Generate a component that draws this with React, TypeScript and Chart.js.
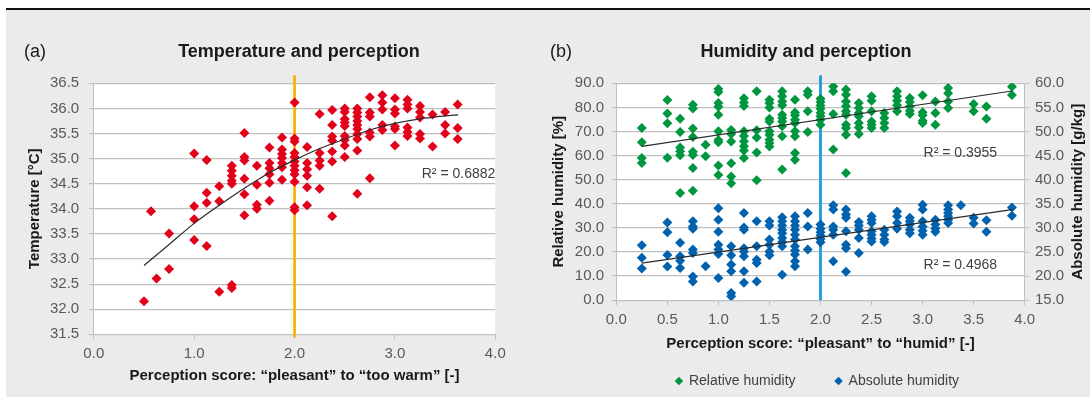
import React, { useEffect, useRef } from "react";
import { Chart, registerables } from "chart.js";

Chart.register(...registerables);

const FONT = "'Liberation Sans', Arial, Helvetica, sans-serif";
const TICK_COLOR = "#595959";
const GRID_COLOR = "#c0c0c0";
const TEXT_DARK = "#1a1a1a";
const LABEL_GREY = "#404040";
const RED = "#e2001a";
const GREEN = "#009640";
const BLUE = "#0062ae";
const YELLOW = "#f7b500";
const LIGHT_BLUE = "#1b9bdc";
const TREND = "#2b2b2b";

type Pt = [number, number];

// ---------- (a) Temperature and perception ----------
const temperaturePoints: Pt[] = [
  [0.5, 32.16], [0.57, 33.95], [0.625, 32.61], [0.75, 32.8], [0.75, 33.51],
  [1.0, 35.1], [1.0, 34.05], [1.0, 33.79], [1.0, 33.38],
  [1.125, 34.97], [1.125, 34.32], [1.125, 34.12], [1.125, 33.26],
  [1.25, 34.45], [1.25, 34.15], [1.25, 32.35],
  [1.375, 34.86], [1.375, 34.76], [1.375, 34.66], [1.375, 34.56], [1.375, 34.5], [1.375, 32.48], [1.375, 32.42],
  [1.5, 35.51], [1.5, 35.03], [1.5, 34.96], [1.5, 34.6], [1.5, 34.29], [1.5, 33.87],
  [1.625, 34.86], [1.625, 34.48], [1.625, 34.08], [1.625, 34.0],
  [1.75, 35.22], [1.75, 34.91], [1.75, 34.81], [1.75, 34.69], [1.75, 34.52], [1.75, 34.16],
  [1.875, 35.42], [1.875, 35.18], [1.875, 35.09], [1.875, 35.01], [1.875, 34.91], [1.875, 34.83], [1.875, 34.58],
  [2.0, 36.12], [2.0, 35.4], [2.0, 35.34], [2.0, 35.11], [2.0, 35.03], [2.0, 34.94], [2.0, 34.86], [2.0, 34.77], [2.0, 34.69], [2.0, 34.54], [2.0, 34.03], [2.0, 33.97],
  [2.125, 35.23], [2.125, 34.91], [2.125, 34.79], [2.125, 34.66], [2.125, 34.43], [2.125, 34.07],
  [2.25, 35.89], [2.25, 35.11], [2.25, 34.96], [2.25, 34.86], [2.25, 34.4],
  [2.375, 35.97], [2.375, 35.67], [2.375, 35.44], [2.375, 35.36], [2.375, 35.14], [2.375, 34.94], [2.375, 33.85],
  [2.5, 36.0], [2.5, 35.93], [2.5, 35.79], [2.5, 35.72], [2.5, 35.65], [2.5, 35.45], [2.5, 35.37], [2.5, 35.26], [2.5, 35.03],
  [2.625, 36.0], [2.625, 35.92], [2.625, 35.84], [2.625, 35.75], [2.625, 35.67], [2.625, 35.59], [2.625, 35.49], [2.625, 35.39], [2.625, 35.16], [2.625, 34.3],
  [2.75, 36.22], [2.75, 35.92], [2.75, 35.84], [2.75, 35.52], [2.75, 35.44], [2.75, 34.61],
  [2.875, 36.26], [2.875, 36.12], [2.875, 35.98], [2.875, 35.67], [2.875, 35.57],
  [3.0, 36.2], [3.0, 35.98], [3.0, 35.9], [3.0, 35.64], [3.0, 35.59], [3.0, 35.26],
  [3.125, 36.17], [3.125, 36.08], [3.125, 36.0], [3.125, 35.62], [3.125, 35.53], [3.125, 35.45],
  [3.25, 36.05], [3.25, 35.93], [3.25, 35.82], [3.25, 35.49], [3.25, 35.4],
  [3.375, 35.88], [3.375, 35.24],
  [3.5, 35.93], [3.5, 35.67], [3.5, 35.5],
  [3.625, 36.08], [3.625, 35.61], [3.625, 35.39],
];

const temperatureTrend: Pt[] = [
  [0.5, 32.87], [0.75, 33.29], [1.0, 33.71], [1.25, 34.07], [1.5, 34.41], [1.75, 34.72],
  [2.0, 34.97], [2.25, 35.2], [2.5, 35.39], [2.75, 35.57], [3.0, 35.7], [3.25, 35.79],
  [3.5, 35.85], [3.63, 35.87],
];

// ---------- (b) Humidity and perception ----------
const relativeHumidityPoints: Pt[] = [
  [0.25, 71.45], [0.25, 65.5], [0.25, 59.0], [0.25, 56.9],
  [0.5, 83.1], [0.5, 77.5], [0.5, 73.4], [0.5, 59.1],
  [0.625, 75.3], [0.625, 69.8], [0.625, 63.4], [0.625, 61.8], [0.625, 60.1], [0.625, 44.5],
  [0.75, 81.1], [0.75, 79.5], [0.75, 71.2], [0.75, 67.7], [0.75, 61.6], [0.75, 60.2], [0.75, 54.9], [0.75, 45.4],
  [0.875, 64.5], [0.875, 59.7],
  [1.0, 87.6], [1.0, 86.4], [1.0, 81.8], [1.0, 80.3], [1.0, 77.0], [1.0, 70.1], [1.0, 66.5], [1.0, 65.5], [1.0, 55.9], [1.0, 52.0],
  [1.125, 70.6], [1.125, 69.0], [1.125, 65.8], [1.125, 56.8], [1.125, 51.3], [1.125, 48.5],
  [1.25, 83.8], [1.25, 82.0], [1.25, 80.6], [1.25, 70.1], [1.25, 68.1], [1.25, 66.0], [1.25, 63.9], [1.25, 62.1], [1.25, 59.0],
  [1.375, 86.7], [1.375, 70.5], [1.375, 67.5], [1.375, 61.3], [1.375, 49.8],
  [1.5, 83.2], [1.5, 81.8], [1.5, 80.0], [1.5, 75.3], [1.5, 74.2], [1.5, 70.1], [1.5, 68.7], [1.5, 66.6], [1.5, 65.2], [1.5, 63.8],
  [1.625, 86.7], [1.625, 84.6], [1.625, 82.5], [1.625, 80.9], [1.625, 77.0], [1.625, 75.6], [1.625, 74.2], [1.625, 72.2], [1.625, 68.0], [1.625, 54.2],
  [1.75, 83.2], [1.75, 77.9], [1.75, 76.7], [1.75, 74.9], [1.75, 73.5], [1.75, 70.1], [1.75, 68.0], [1.75, 61.1], [1.75, 58.3],
  [1.875, 86.7], [1.875, 85.3], [1.875, 78.4], [1.875, 69.8],
  [2.0, 83.6], [2.0, 82.2], [2.0, 80.8], [2.0, 79.4], [2.0, 77.7], [2.0, 76.3], [2.0, 74.9], [2.0, 72.8],
  [2.125, 88.7], [2.125, 86.7], [2.125, 77.3], [2.125, 62.5],
  [2.25, 87.4], [2.25, 85.3], [2.25, 82.5], [2.25, 80.5], [2.25, 78.4], [2.25, 77.0], [2.25, 72.8], [2.25, 71.5], [2.25, 68.7], [2.25, 52.8],
  [2.375, 81.8], [2.375, 79.7], [2.375, 77.7], [2.375, 76.3], [2.375, 73.5], [2.375, 71.7], [2.375, 69.0],
  [2.5, 84.6], [2.5, 82.8], [2.5, 78.4], [2.5, 74.2], [2.5, 72.8], [2.5, 71.5],
  [2.625, 77.7], [2.625, 75.6], [2.625, 73.5], [2.625, 71.5],
  [2.75, 86.7], [2.75, 84.6], [2.75, 82.8], [2.75, 80.9], [2.75, 78.4],
  [2.875, 83.9], [2.875, 82.2], [2.875, 80.4], [2.875, 78.6], [2.875, 77.3],
  [3.0, 85.0], [3.0, 78.0], [3.0, 76.7], [3.0, 74.5], [3.0, 73.5],
  [3.125, 82.5], [3.125, 77.7], [3.125, 72.8],
  [3.25, 88.0], [3.25, 85.9], [3.25, 82.5], [3.25, 79.7],
  [3.5, 81.4], [3.5, 78.4],
  [3.625, 80.4], [3.625, 75.3],
  [3.875, 88.6], [3.875, 85.1],
];

const absoluteHumidityPoints: Pt[] = [
  [0.25, 26.4], [0.25, 23.8], [0.25, 21.6],
  [0.5, 31.1], [0.5, 29.1], [0.5, 24.4], [0.5, 22.0],
  [0.625, 26.9], [0.625, 24.1], [0.625, 23.2], [0.625, 21.7],
  [0.75, 31.4], [0.75, 30.3], [0.75, 29.8], [0.75, 25.5], [0.75, 24.8], [0.75, 19.9], [0.75, 18.9],
  [0.875, 22.05],
  [1.0, 34.1], [1.0, 31.7], [1.0, 29.2], [1.0, 26.5], [1.0, 25.5], [1.0, 24.6], [1.0, 19.6],
  [1.125, 26.2], [1.125, 24.3], [1.125, 22.4], [1.125, 21.0], [1.125, 16.5], [1.125, 15.8],
  [1.25, 33.1], [1.25, 30.1], [1.25, 29.6], [1.25, 25.8], [1.25, 25.1], [1.25, 24.1], [1.25, 21.0], [1.25, 18.6],
  [1.375, 31.4], [1.375, 26.2], [1.375, 23.4], [1.375, 22.7], [1.375, 18.9],
  [1.5, 31.4], [1.5, 30.5], [1.5, 27.6], [1.5, 26.5], [1.5, 25.1], [1.5, 24.3],
  [1.625, 32.2], [1.625, 31.4], [1.625, 30.5], [1.625, 29.6], [1.625, 28.9], [1.625, 27.9], [1.625, 27.1], [1.625, 26.2], [1.625, 20.3],
  [1.75, 32.4], [1.75, 31.4], [1.75, 30.5], [1.75, 29.6], [1.75, 28.6], [1.75, 27.6], [1.75, 26.2], [1.75, 25.3], [1.75, 24.5], [1.75, 23.1], [1.75, 22.05],
  [1.875, 33.1], [1.875, 30.3], [1.875, 25.5],
  [2.0, 30.7], [2.0, 29.8], [2.0, 29.1], [2.0, 28.4], [2.0, 27.7], [2.0, 27.0],
  [2.125, 34.7], [2.125, 33.8], [2.125, 30.3], [2.125, 29.6], [2.125, 28.6], [2.125, 23.1],
  [2.25, 33.8], [2.25, 32.8], [2.25, 32.1], [2.25, 29.3], [2.25, 26.5], [2.25, 25.8], [2.25, 20.9],
  [2.375, 31.2], [2.375, 30.5], [2.375, 29.6], [2.375, 27.9], [2.375, 24.8],
  [2.5, 32.4], [2.5, 31.7], [2.5, 31.0], [2.5, 29.3], [2.5, 28.6], [2.5, 27.8], [2.5, 27.2],
  [2.625, 29.6], [2.625, 28.6], [2.625, 27.6], [2.625, 27.1],
  [2.75, 33.4], [2.75, 32.4], [2.75, 31.0], [2.75, 29.8],
  [2.875, 32.1], [2.875, 31.4], [2.875, 30.7], [2.875, 29.6], [2.875, 28.9],
  [3.0, 34.8], [3.0, 33.8], [3.0, 31.4], [3.0, 30.3], [3.0, 29.4], [3.0, 28.6],
  [3.125, 31.7], [3.125, 30.7], [3.125, 29.9], [3.125, 29.2],
  [3.25, 34.7], [3.25, 33.8], [3.25, 33.1], [3.25, 32.4], [3.25, 31.7], [3.25, 31.0],
  [3.375, 34.7],
  [3.5, 32.1], [3.5, 30.9],
  [3.625, 31.6], [3.625, 29.2],
  [3.875, 34.25], [3.875, 32.5],
];

const relativeHumidityTrend: Pt[] = [[0.25, 63.8], [3.875, 86.8]];
const absoluteHumidityTrend: Pt[] = [[0.25, 22.7], [3.875, 33.8]];

// axis ranges and tick steps
const tempTicks = { min: 31.5, max: 36.5, step: 0.5 };
const scoreTicksA = { min: 0, max: 4, step: 1 };
const scoreTicksB = { min: 0, max: 4, step: 0.5 };
const rhTicks = { min: 0, max: 90, step: 10 };
const ahTicks = { min: 15, max: 60, step: 5 };
const THRESHOLD_SCORE = 2.0;

// R² labels (anchored in data units, right aligned)
const r2Temp = { text: "R\u00B2 = 0.6882", x: 4.0, y: 34.7 };
const r2RH = { text: "R\u00B2 = 0.3955", x: 3.73, y: 61.1 };
const r2AH = { text: "R\u00B2 = 0.4968", x: 3.73, y: 14.6 };

const toXY = (pts: Pt[]) => pts.map(([x, y]) => ({ x, y }));

const plotBackground = {
  id: "plotBackground",
  beforeDraw(chart: any) {
    const { ctx, chartArea } = chart;
    ctx.save();
    ctx.fillStyle = "#ffffff";
    ctx.fillRect(chartArea.left, chartArea.top, chartArea.right - chartArea.left, chartArea.bottom - chartArea.top);
    ctx.restore();
  },
};

const thresholdLine = (color: string, above: number, below: number) => ({
  id: "thresholdLine",
  beforeDatasetsDraw(chart: any) {
    const { ctx, chartArea } = chart;
    const x = chart.scales.x.getPixelForValue(THRESHOLD_SCORE);
    ctx.save();
    ctx.strokeStyle = color;
    ctx.lineWidth = 2.8;
    ctx.beginPath();
    ctx.moveTo(x, chartArea.top - above);
    ctx.lineTo(x, chartArea.bottom + below);
    ctx.stroke();
    ctx.restore();
  },
});

function drawText(ctx: CanvasRenderingContext2D, text: string, x: number, y: number, font: string, color: string, align: CanvasTextAlign = "left", rotation = 0) {
  ctx.save();
  ctx.translate(x, y);
  if (rotation) ctx.rotate(rotation);
  ctx.font = font;
  ctx.fillStyle = color;
  ctx.textAlign = align;
  ctx.textBaseline = "middle";
  ctx.fillText(text, 0, 0);
  ctx.restore();
}

const tickFont = { family: FONT, size: 15 };
const axisTitleFont = { family: FONT, size: 15, weight: "bold" as const };
const POINT_R = 5;

function ChartCanvas({ config }: { config: any }) {
  const ref = useRef<HTMLCanvasElement | null>(null);
  useEffect(() => {
    if (!ref.current) return;
    const chart = new Chart(ref.current, config);
    return () => chart.destroy();
  }, [config]);
  return <canvas ref={ref} />;
}

const leftConfig: any = {
  type: "scatter",
  data: {
    datasets: [
      {
        label: "Temperature",
        data: toXY(temperaturePoints),
        backgroundColor: RED,
        pointStyle: "rectRot",
        pointRadius: POINT_R,
        pointHoverRadius: POINT_R,
        borderWidth: 0,
        order: 2,
      },
      {
        type: "line",
        label: "Trend",
        data: toXY(temperatureTrend),
        borderColor: TREND,
        borderWidth: 1.2,
        pointRadius: 0,
        tension: 0.3,
        fill: false,
        order: 1,
      },
    ],
  },
  options: {
    animation: false,
    responsive: true,
    maintainAspectRatio: false,
    events: [],
    layout: { padding: { top: 83.3, bottom: 13, left: 0, right: 49.7 } },
    plugins: { legend: { display: false }, tooltip: { enabled: false }, title: { display: false } },
    scales: {
      x: {
        type: "linear",
        min: scoreTicksA.min,
        max: scoreTicksA.max,
        ticks: { stepSize: scoreTicksA.step, callback: (v: any) => Number(v).toFixed(1), color: TICK_COLOR, font: tickFont, padding: 5.7 },
        grid: { drawOnChartArea: false, drawTicks: true, tickLength: 5, color: GRID_COLOR },
        border: { display: true, color: GRID_COLOR, width: 1 },
        title: { display: true, text: "Perception score: \u201Cpleasant\u201D to \u201Ctoo warm\u201D [-]", font: axisTitleFont, color: TEXT_DARK, padding: { top: 0, bottom: 0 } },
        afterFit: (s: any) => { s.height = 50.7; },
      },
      y: {
        type: "linear",
        min: tempTicks.min,
        max: tempTicks.max,
        ticks: { stepSize: tempTicks.step, callback: (v: any) => Number(v).toFixed(1), color: TICK_COLOR, font: tickFont, padding: 9.6 },
        grid: { color: GRID_COLOR, lineWidth: 1.2, tickLength: 5 },
        border: { display: true, color: GRID_COLOR, width: 1 },
        title: { display: true, text: "Temperature [\u00B0C]", font: axisTitleFont, color: TEXT_DARK, padding: { top: 26, bottom: 0 } },
        afterFit: (s: any) => { s.width = 93.8; },
      },
    },
  },
  plugins: [
    plotBackground,
    thresholdLine(YELLOW, 8, 3),
    {
      id: "textsA",
      afterDraw(chart: any) {
        const { ctx, scales } = chart;
        drawText(ctx, "(a)", 24, 52, `18px ${FONT}`, TEXT_DARK, "left");
        drawText(ctx, "Temperature and perception", 299, 52, `bold 18px ${FONT}`, TEXT_DARK, "center");
        drawText(ctx, r2Temp.text, scales.x.getPixelForValue(r2Temp.x), scales.y.getPixelForValue(r2Temp.y), `14px ${FONT}`, LABEL_GREY, "right");
      },
    },
  ],
};

const rightConfig: any = {
  type: "scatter",
  data: {
    datasets: [
      {
        label: "Relative humidity",
        data: toXY(relativeHumidityPoints),
        backgroundColor: GREEN,
        pointStyle: "rectRot",
        pointRadius: POINT_R,
        pointHoverRadius: POINT_R,
        borderWidth: 0,
        yAxisID: "y",
        order: 2,
      },
      {
        label: "Absolute humidity",
        data: toXY(absoluteHumidityPoints),
        backgroundColor: BLUE,
        pointStyle: "rectRot",
        pointRadius: POINT_R,
        pointHoverRadius: POINT_R,
        borderWidth: 0,
        yAxisID: "y2",
        order: 2,
      },
      {
        type: "line",
        label: "RH trend",
        data: toXY(relativeHumidityTrend),
        borderColor: TREND,
        borderWidth: 1.2,
        pointRadius: 0,
        fill: false,
        yAxisID: "y",
        order: 1,
      },
      {
        type: "line",
        label: "AH trend",
        data: toXY(absoluteHumidityTrend),
        borderColor: TREND,
        borderWidth: 1.2,
        pointRadius: 0,
        fill: false,
        yAxisID: "y2",
        order: 1,
      },
    ],
  },
  options: {
    animation: false,
    responsive: true,
    maintainAspectRatio: false,
    events: [],
    layout: { padding: { top: 83.3, bottom: 0, left: 0, right: 0 } },
    plugins: {
      title: { display: false },
      tooltip: { enabled: false },
      legend: {
        display: true,
        position: "bottom",
        labels: {
          usePointStyle: true,
          boxWidth: 6,
          boxHeight: 6,
          padding: 40,
          color: LABEL_GREY,
          font: { family: FONT, size: 14 },
          filter: (item: any) => item.datasetIndex < 2,
        },
      },
    },
    scales: {
      x: {
        type: "linear",
        min: scoreTicksB.min,
        max: scoreTicksB.max,
        ticks: { stepSize: scoreTicksB.step, callback: (v: any) => Number(v).toFixed(1), color: TICK_COLOR, font: tickFont, padding: 5.8 },
        grid: { drawOnChartArea: false, drawTicks: true, tickLength: 5, color: GRID_COLOR },
        border: { display: true, color: GRID_COLOR, width: 1 },
        title: { display: true, text: "Perception score: \u201Cpleasant\u201D to \u201Chumid\u201D [-]", font: axisTitleFont, color: TEXT_DARK, padding: { top: 0, bottom: -19 } },
        afterFit: (s: any) => { s.height = 33.8; },
      },
      y: {
        type: "linear",
        position: "left",
        min: rhTicks.min,
        max: rhTicks.max,
        ticks: { stepSize: rhTicks.step, callback: (v: any) => Number(v).toFixed(1), color: TICK_COLOR, font: tickFont, padding: 7.3 },
        grid: { color: GRID_COLOR, lineWidth: 1.2, tickLength: 5 },
        border: { display: true, color: GRID_COLOR, width: 1 },
        title: { display: true, text: "Relative humidity [%]", font: axisTitleFont, color: TEXT_DARK, padding: { top: 5, bottom: 0 } },
        afterFit: (s: any) => { s.width = 71.3; },
      },
      y2: {
        type: "linear",
        position: "right",
        min: ahTicks.min,
        max: ahTicks.max,
        ticks: { stepSize: ahTicks.step, callback: (v: any) => Number(v).toFixed(1), color: TICK_COLOR, font: tickFont, padding: 5.3 },
        grid: { drawOnChartArea: false, tickLength: 5, color: GRID_COLOR },
        border: { display: true, color: GRID_COLOR, width: 1 },
        title: { display: false },
        afterFit: (s: any) => { s.width = 65.3; },
      },
    },
  },
  plugins: [
    plotBackground,
    thresholdLine(LIGHT_BLUE, 8, 0),
    {
      id: "textsB",
      afterDraw(chart: any) {
        const { ctx, scales, chartArea } = chart;
        drawText(ctx, "(b)", 5, 52, `18px ${FONT}`, TEXT_DARK, "left");
        drawText(ctx, "Humidity and perception", 261, 52, `bold 18px ${FONT}`, TEXT_DARK, "center");
        drawText(ctx, r2RH.text, scales.x.getPixelForValue(r2RH.x), scales.y.getPixelForValue(r2RH.y), `14px ${FONT}`, LABEL_GREY, "right");
        drawText(ctx, r2AH.text, scales.x.getPixelForValue(r2AH.x), scales.y.getPixelForValue(r2AH.y), `14px ${FONT}`, LABEL_GREY, "right");
        drawText(ctx, "Absolute humidity [g/kg]", 533, (chartArea.top + chartArea.bottom) / 2, `bold 15px ${FONT}`, TEXT_DARK, "center", -Math.PI / 2);
      },
    },
  ],
};

export default function App() {
  return (
    <div style={{ position: "absolute", left: 0, top: 0, width: 1090, height: 398, background: "#ffffff", overflow: "hidden" }}>
      <div style={{ position: "absolute", left: 6, top: 8, width: 1084, height: 2, background: "#111111" }} />
      <div style={{ position: "absolute", left: 6, top: 10, width: 1084, height: 387, background: "#ebebeb" }} />
      <div style={{ position: "absolute", left: 0, top: 0, width: 545, height: 398 }}>
        <ChartCanvas config={leftConfig} />
      </div>
      <div style={{ position: "absolute", left: 545, top: 0, width: 545, height: 398 }}>
        <ChartCanvas config={rightConfig} />
      </div>
    </div>
  );
}
